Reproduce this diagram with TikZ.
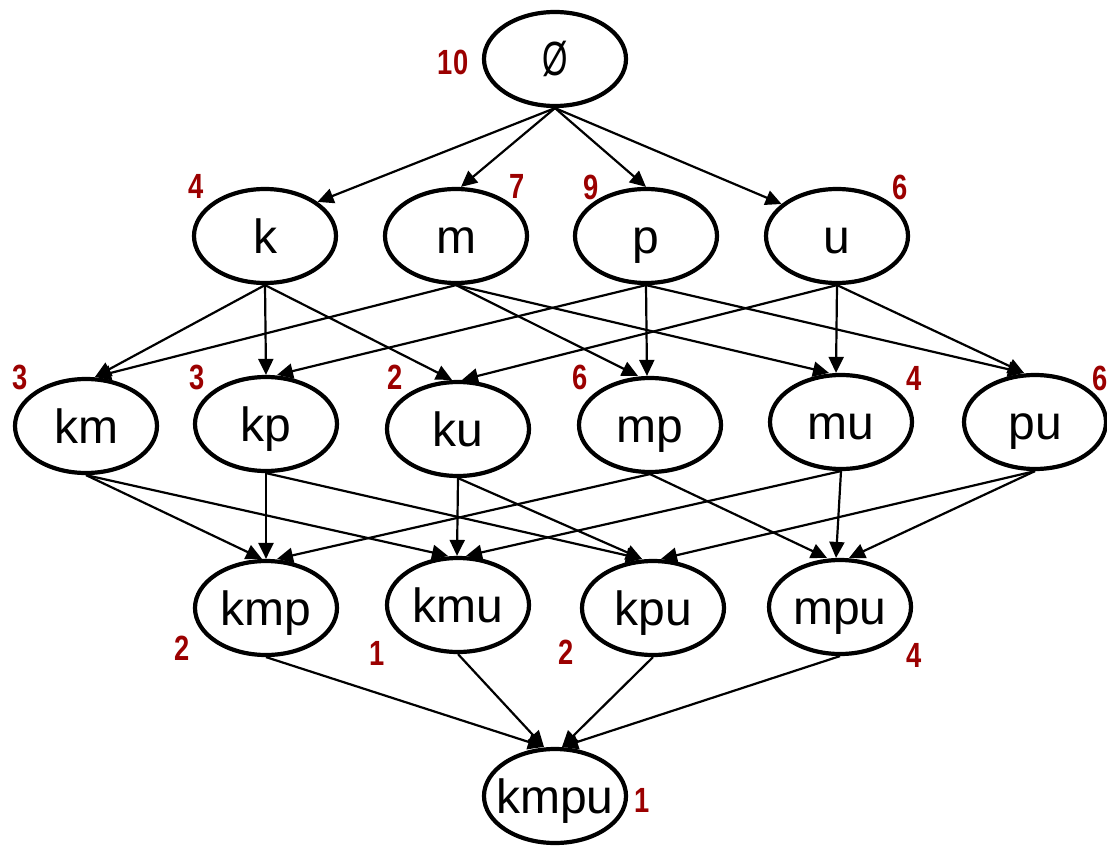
\documentclass[tikz,border=0pt]{standalone}
\usepackage{fontspec}
\setmainfont{Liberation Sans}
\newfontfamily\lblfont{Liberation Sans Bold}[FakeStretch=0.78]
\newfontfamily\emptysetfont{Liberation Sans}[FakeStretch=0.68]
\usetikzlibrary{arrows.meta,shapes.geometric,calc}
\definecolor{lblred}{RGB}{155,0,0}
\newcommand{\nodetxt}[1]{\makebox[0pt]{\raisebox{-17pt}[0pt][0pt]{#1}}}
\begin{document}
\begin{tikzpicture}[x=1pt,y=-1pt,
  setnode/.style={ellipse, draw, line width=4.2pt, minimum width=142pt, minimum height=94pt, inner sep=0pt, fill=white, font=\fontsize{48}{56}\selectfont},
  cnt/.style={text=lblred, inner sep=0pt, font=\lblfont\fontsize{35}{42}\selectfont},
  edge/.style={line width=2.2pt, -{Triangle[length=16pt,width=15pt]}}]
\useasboundingbox (0,0) rectangle (1107,845);

% nodes
\node[setnode] (e0) at (555,59) {\nodetxt{\emptysetfont Ø}};
\node[setnode] (k) at (265,236) {\nodetxt{k}};
\node[setnode] (m) at (456,236) {\nodetxt{m}};
\node[setnode] (p) at (646,236) {\nodetxt{p}};
\node[setnode] (u) at (837,236) {\nodetxt{u}};
\node[setnode] (km) at (86,426) {\nodetxt{km}};
\node[setnode] (kp) at (266,424) {\nodetxt{kp}};
\node[setnode] (ku) at (458,429) {\nodetxt{ku}};
\node[setnode] (mp) at (650,425) {\nodetxt{mp}};
\node[setnode] (mu) at (841,422) {\nodetxt{mu}};
\node[setnode] (pu) at (1035,422) {\nodetxt{pu}};
\node[setnode] (kmp) at (266,608) {\nodetxt{kmp}};
\node[setnode] (kmu) at (458,605) {\nodetxt{kmu}};
\node[setnode] (kpu) at (653,608) {\nodetxt{kpu}};
\node[setnode] (mpu) at (840,607) {\nodetxt{mpu}};
\node[setnode] (kmpu) at (555,796) {\nodetxt{kmpu}};

% edges level 0 -> 1
\draw[edge] (e0.south) -- (k.33);
\draw[edge] (e0.south) -- ($(m.north)+(5,0)$);
\draw[edge] (e0.south) -- (p.north);
\draw[edge] (e0.south) -- (u.150);

% edges level 1 -> 2
\draw[edge] (k.south) -- ($(km.north)+(9,0)$);
\draw[edge] (k.south) -- (kp.north);
\draw[edge] (k.south) -- ($(ku.north)+(-6,0)$);
\draw[edge] (m.south) -- ($(km.north)+(9,0)$);
\draw[edge] (m.south) -- ($(mp.north)+(-12,0)$);
\draw[edge] (m.south) -- ($(mu.north)+(-12,0)$);
\draw[edge] (p.south) -- ($(kp.north)+(11,0)$);
\draw[edge] (p.south) -- ($(mp.north)+(-3,0)$);
\draw[edge] (p.south) -- ($(pu.north)+(-11,0)$);
\draw[edge] (u.south) -- ($(ku.north)+(4,0)$);
\draw[edge] (u.south) -- ($(mu.north)+(-5,0)$);
\draw[edge] (u.south) -- ($(pu.north)+(-11,0)$);

% edges level 2 -> 3
\draw[edge] (km.south) -- ($(kmp.north)+(-4,0)$);
\draw[edge] (km.south) -- ($(kmu.north)+(-10,0)$);
\draw[edge] (kp.south) -- (kmp.north);
\draw[edge] (kp.south) -- ($(kpu.north)+(-11,0)$);
\draw[edge] (ku.south) -- ($(kmu.north)+(-1,0)$);
\draw[edge] (ku.south) -- ($(kpu.north)+(-11,0)$);
\draw[edge] (mp.south) -- ($(kmp.north)+(11,0)$);
\draw[edge] (mp.south) -- ($(mpu.north)+(-13,0)$);
\draw[edge] (mu.south) -- ($(kmu.north)+(8,0)$);
\draw[edge] (mu.south) -- ($(mpu.north)+(-4,0)$);
\draw[edge] (pu.south) -- ($(kpu.north)+(8,0)$);
\draw[edge] (pu.south) -- ($(mpu.north)+(9,0)$);

% edges level 3 -> 4
\draw[edge] (kmp.south) -- ($(kmpu.north)+(-11,0)$);
\draw[edge] (kmu.south) -- ($(kmpu.north)+(-11,0)$);
\draw[edge] (kpu.south) -- ($(kmpu.north)+(7,0)$);
\draw[edge] (mpu.south) -- ($(kmpu.north)+(7,0)$);

% counts
\node[cnt] (c0) at (453,62) {10};
\node[cnt] (ck) at (196,186) {4};
\node[cnt] (cm) at (517,186) {7};
\node[cnt] (cp) at (591,187) {9};
\node[cnt] (cu) at (900,187) {6};
\node[cnt] (ckm) at (20,377) {3};
\node[cnt] (ckp) at (197,377) {3};
\node[cnt] (cku) at (395,377) {2};
\node[cnt] (cmp) at (580,377) {6};
\node[cnt] (cmu) at (914,378) {4};
\node[cnt] (cpu) at (1100,378) {6};
\node[cnt] (ckmp) at (182,648) {2};
\node[cnt] (ckmu) at (377,653) {1};
\node[cnt] (ckpu) at (566,652) {2};
\node[cnt] (cmpu) at (914,655) {4};
\node[cnt] (ckmpu) at (642,800) {1};
\end{tikzpicture}
\end{document}
